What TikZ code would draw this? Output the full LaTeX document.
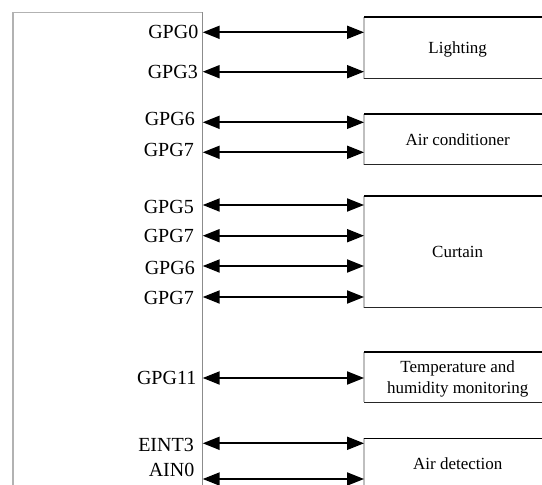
\documentclass[tikz,border=0pt]{standalone}
\usepackage{fontspec}
\setmainfont{Liberation Serif}
\usetikzlibrary{arrows.meta}
\begin{document}
\begin{tikzpicture}[x=1pt,y=-1pt,
  pinlabel/.style={anchor=east, inner sep=0pt, font=\fontsize{20}{24}\selectfont, text height=13.2pt, text depth=0pt},
  devbox/.style={anchor=north west, inner sep=0pt, minimum width=187pt, font=\fontsize{17}{21}\selectfont, align=center, text depth=0pt},
  bus/.style={line width=2pt, {Triangle[length=17pt,width=13pt]}-{Triangle[length=17pt,width=13pt]}},
  topedge/.style={line width=1.7pt, black},
  botedge/.style={line width=1.2pt, black!85},
  sideedge/.style={line width=1.3pt, black!25},
  outerframe/.style={line width=1.4pt, black!30},
  innerframe/.style={line width=1pt, black!45}]
\useasboundingbox (0,0) rectangle (542,485);
\clip (0,0) rectangle (542,485);

% frame of the controller
\coordinate (fbl) at (13,495);
\coordinate (ftl) at (13,12.3);
\coordinate (ftr) at (202.7,12.3);
\coordinate (fbr) at (202.7,495);
\draw[outerframe] (fbl) -- (ftl) -- (ftr);
\draw[innerframe] (ftr) -- (fbr);

% device boxes
\node[devbox, minimum height=61.6pt] (light) at (364,16.7) {Lighting};
\node[devbox, minimum height=50pt] (aircon) at (364,114.3) {Air conditioner};
\node[devbox, minimum height=111.6pt] (curtain) at (364,195.7) {Curtain};
\node[devbox, minimum height=50pt] (temp) at (364,352) {Temperature and\\humidity monitoring};
\node[devbox, minimum height=50pt] (airdet) at (364,438.3) {Air detection};

\foreach \b in {light,aircon,curtain,temp}{
  \draw[sideedge] (\b.north west) -- (\b.south west);
  \draw[topedge] (\b.north west) -- (\b.north east);
  \draw[botedge] (\b.south west) -- (\b.south east);
}
\draw[sideedge] (airdet.north west) -- (airdet.south west);
\draw[line width=1.1pt, black] (airdet.north west) -- (airdet.north east);

% pin points on the controller edge
\coordinate (c0) at (202.7,32.3);
\coordinate (c1) at (202.7,71.7);
\coordinate (c2) at (202.7,122.3);
\coordinate (c3) at (202.7,152.3);
\coordinate (c4) at (202.7,205);
\coordinate (c5) at (202.7,235.7);
\coordinate (c6) at (202.7,266);
\coordinate (c7) at (202.7,297);
\coordinate (c8) at (202.7,378);
\coordinate (c9) at (202.7,443.3);
\coordinate (c10) at (202.7,479);

% pin labels
\node[pinlabel] (l0) at (198.5,32) {GPG0};
\node[pinlabel] (l1) at (198,72) {GPG3};
\node[pinlabel] (l2) at (195,119) {GPG6};
\node[pinlabel] (l3) at (194,150) {GPG7};
\node[pinlabel] (l4) at (194,206.5) {GPG5};
\node[pinlabel] (l5) at (194,236) {GPG7};
\node[pinlabel] (l6) at (195,268) {GPG6};
\node[pinlabel] (l7) at (194,298) {GPG7};
\node[pinlabel] (l8) at (196.5,378) {GPG11};
\node[pinlabel] (l9) at (194,445) {EINT3};
\node[pinlabel] (l10) at (194.5,470) {AIN0};

% connections
\draw[bus] (c0) -- (c0 -| light.west);
\draw[bus] (c1) -- (c1 -| light.west);
\draw[bus] (c2) -- (c2 -| aircon.west);
\draw[bus] (c3) -- (c3 -| aircon.west);
\draw[bus] (c4) -- (c4 -| curtain.west);
\draw[bus] (c5) -- (c5 -| curtain.west);
\draw[bus] (c6) -- (c6 -| curtain.west);
\draw[bus] (c7) -- (c7 -| curtain.west);
\draw[bus] (c8) -- (c8 -| temp.west);
\draw[bus] (c9) -- (c9 -| airdet.west);
\draw[bus] (c10) -- (c10 -| airdet.west);
\end{tikzpicture}
\end{document}
